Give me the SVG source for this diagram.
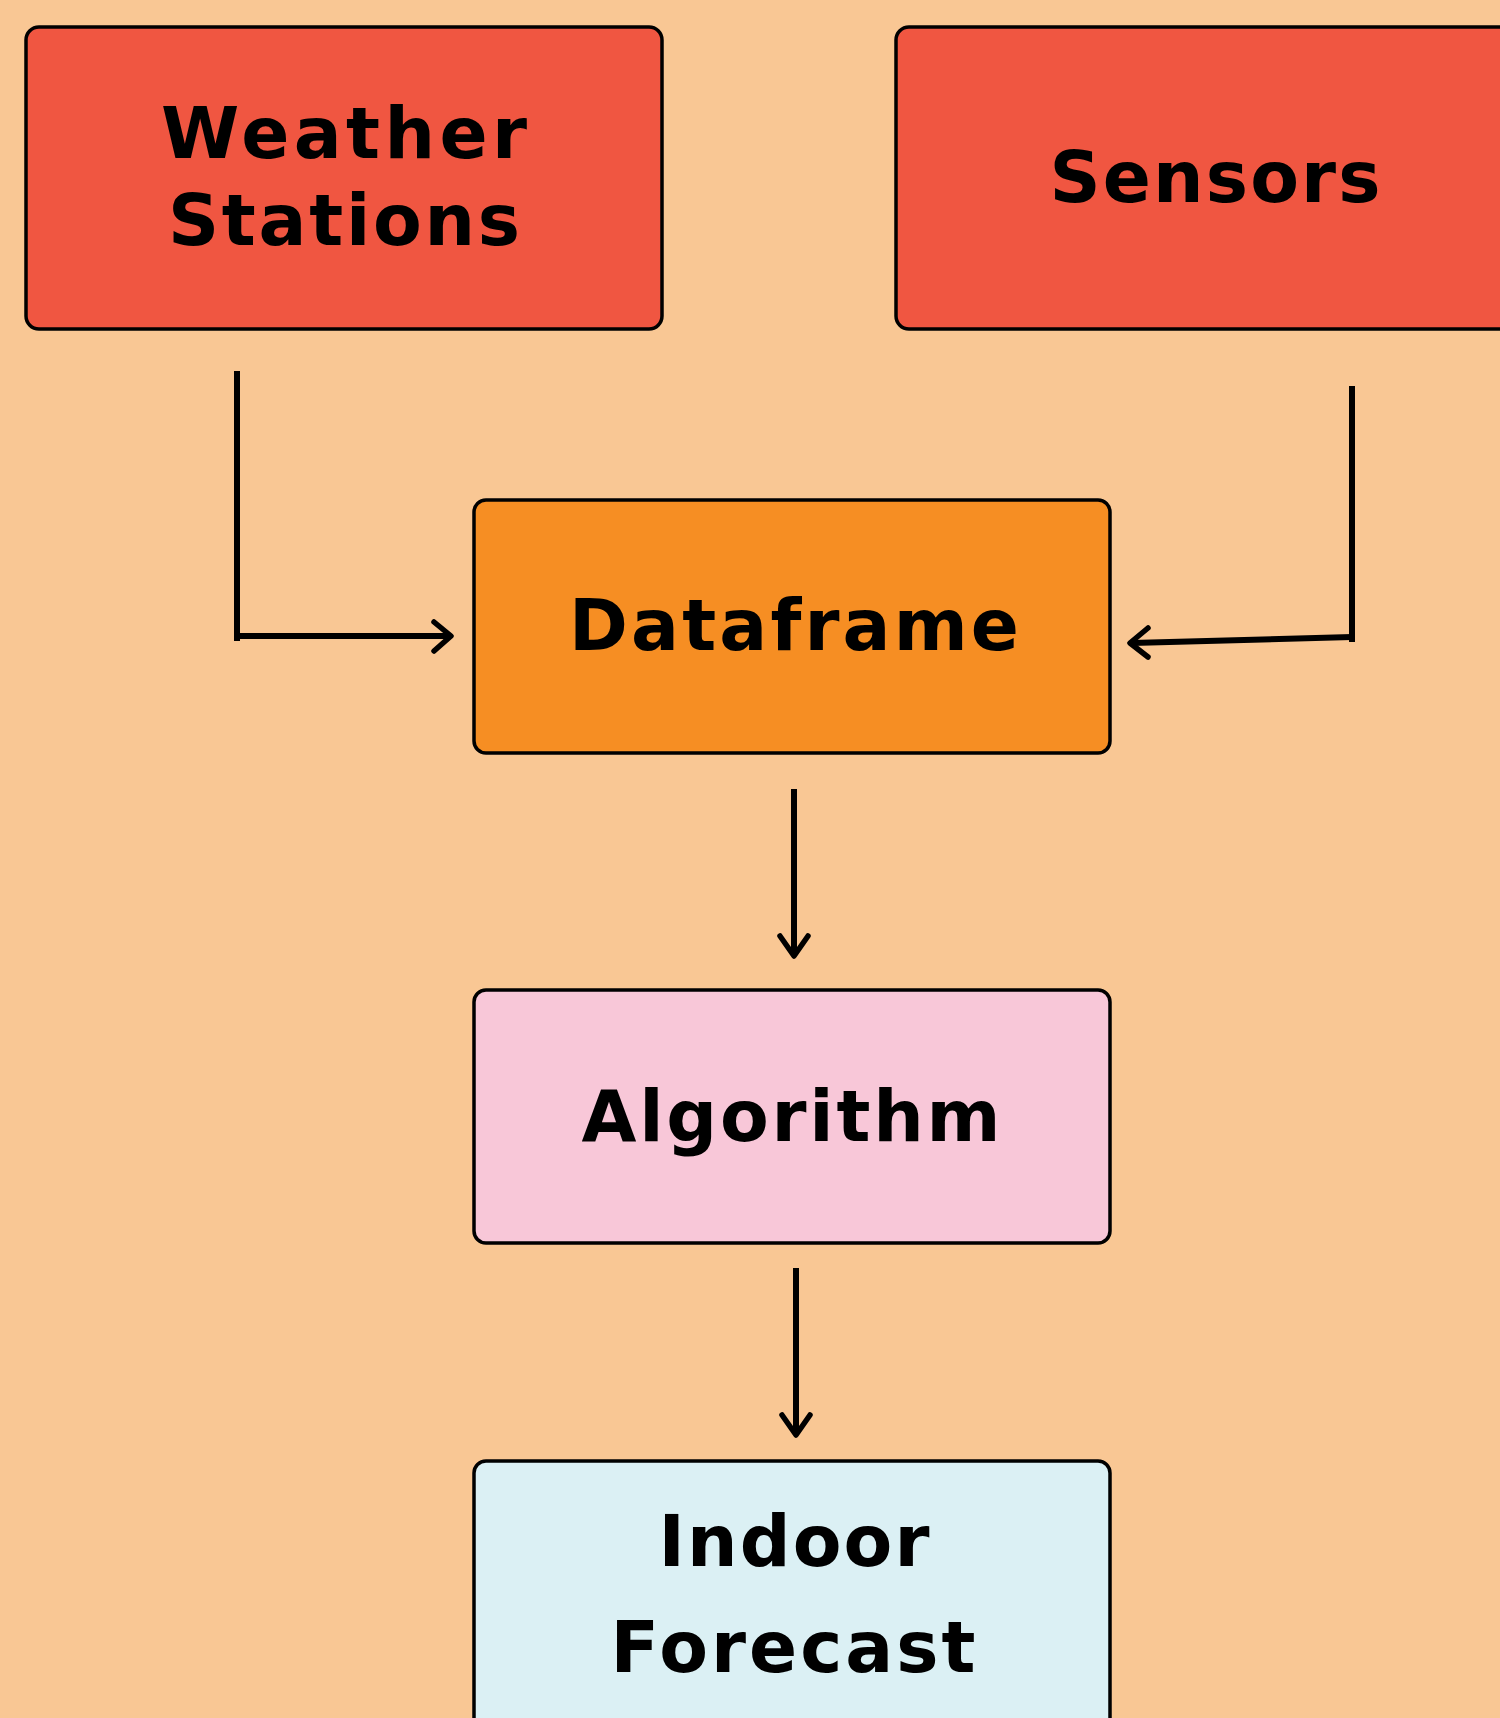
<svg xmlns="http://www.w3.org/2000/svg" width="1500" height="1718" viewBox="0 0 1500 1718">
<style>
.box{stroke:#000;stroke-width:3.5}
.lbl{font-family:"DejaVu Sans","Liberation Sans",Arial,sans-serif;font-weight:700;font-size:71px;fill:#000;text-anchor:middle}
.con{fill:none;stroke:#000;stroke-width:6;stroke-linecap:butt}
.head{fill:none;stroke:#000;stroke-width:5.5;stroke-linecap:round;stroke-linejoin:round}
</style>
<rect width="1500" height="1718" fill="#F9C794"/>
<g id="weather-stations">
<rect class="box" x="26" y="27" width="636" height="302" rx="13" fill="#F05641"/>
<text class="lbl" x="344" y="158" textLength="366" lengthAdjust="spacing">Weather</text>
<text class="lbl" x="344" y="245" textLength="352" lengthAdjust="spacing">Stations</text>
</g>
<g id="sensors">
<rect class="box" x="896" y="27" width="640" height="302" rx="13" fill="#F05641"/>
<text class="lbl" x="1215" y="202" textLength="331" lengthAdjust="spacing">Sensors</text>
</g>
<g id="dataframe">
<rect class="box" x="474" y="500" width="636" height="253" rx="12" fill="#F68E23"/>
<text class="lbl" x="794" y="650" textLength="450" lengthAdjust="spacing">Dataframe</text>
</g>
<g id="algorithm">
<rect class="box" x="474" y="990" width="636" height="253" rx="12" fill="#F8C7D8"/>
<text class="lbl" x="791" y="1141" textLength="419" lengthAdjust="spacing">Algorithm</text>
</g>
<g id="indoor-forecast">
<rect class="box" x="474" y="1461" width="636" height="320" rx="12" fill="#DBF0F4"/>
<text class="lbl" x="794" y="1566" textLength="271" lengthAdjust="spacing">Indoor</text>
<text class="lbl" x="793" y="1672" textLength="365" lengthAdjust="spacing">Forecast</text>
</g>
<g id="connectors">
<path class="con" d="M237 371 V641"/>
<path class="con" d="M237 636 H450"/>
<path class="head" d="M434 622 L451 636 L434 651"/>
<path class="con" d="M1352 386 V642"/>
<path class="con" d="M1352 637 L1132 643"/>
<path class="head" d="M1148 628 L1130 643 L1148 657"/>
<path class="con" d="M794 789 V954"/>
<path class="head" d="M780 936 L794 956 L808 936"/>
<path class="con" d="M796 1268 V1433"/>
<path class="head" d="M782 1415 L796 1435 L810 1415"/>
</g>
</svg>
